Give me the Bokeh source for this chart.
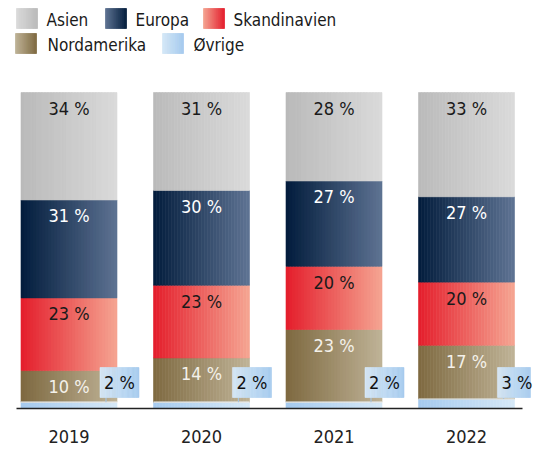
import numpy as np
from bokeh.plotting import figure
from bokeh.models import Range1d, ColumnDataSource
from bokeh.embed import file_html
from bokeh.resources import INLINE
from bokeh.core.properties import value

# ---------------- data ----------------
years = ["2019", "2020", "2021", "2022"]
series = ["Øvrige", "Nordamerika", "Skandinavien", "Europa", "Asien"]  # bottom -> top
asien = [34, 31, 28, 33]
europa = [31, 30, 27, 27]
skandinavien = [23, 23, 20, 20]
nordamerika = [10, 14, 23, 17]
ovrige = [2, 2, 2, 3]
values = {"Øvrige": ovrige, "Nordamerika": nordamerika, "Skandinavien": skandinavien,
          "Europa": europa, "Asien": asien}
legend_order = ["Asien", "Europa", "Skandinavien", "Nordamerika", "Øvrige"]

# ---------------- style ----------------
grad = {  # (left colour, right colour) in bars
    "Asien": ("#bababa", "#dadada"),
    "Europa": ("#021c3c", "#5e7393"),
    "Skandinavien": ("#e41d2b", "#f5a592"),
    "Nordamerika": ("#7e6940", "#bfb397"),
    "Øvrige": ("#a5caee", "#d6e8f7"),
}
label_color = {"Asien": "#1a1a1a", "Europa": "#ffffff", "Skandinavien": "#1a1a1a",
               "Nordamerika": "#f4f1ea", "Øvrige": "#111111"}
FONT = value("DejaVu Sans Condensed")

W, H = 535, 450
PXY = 3.16      # px per percent
PXX = 132.5     # px per category
Y0 = 408        # px (from top) of baseline
X0 = 68.5       # px of first bar centre
x_start = -X0 / PXX
x_end = (W - X0) / PXX
y_start = -(H - Y0) / PXY
y_end = Y0 / PXY


def px2x(px):
    return x_start + px / PXX


def px2y(py):
    return y_end - py / PXY


def hex2rgb(h):
    h = h.lstrip("#")
    return np.array([int(h[i:i + 2], 16) for i in (0, 2, 4)], dtype=float)


def mix(c1, c2, t):
    c = hex2rgb(c1) * (1 - t) + hex2rgb(c2) * t
    return "#%02x%02x%02x" % tuple(int(round(v)) for v in c)


BW = 96 / PXX
NS = 32

p = figure(width=W, height=H, output_backend="svg", toolbar_location=None,
           x_range=Range1d(x_start, x_end), y_range=Range1d(y_start, y_end),
           min_border=0, outline_line_color=None)
p.axis.visible = False
p.grid.visible = False

# ---- gradient stacked bars ----
L, R, T, B, C = [], [], [], [], []
lx, ly, lt, lc = [], [], [], []
sepx0, sepx1, sepy = [], [], []
for i, yr in enumerate(years):
    base = 0.0
    for s in series:
        v = values[s][i]
        top = base + v
        c1, c2 = grad[s]
        for k in range(NS):
            l = i - BW / 2 + BW * k / NS
            L.append(l)
            R.append(l + BW / NS)
            B.append(base)
            T.append(top)
            C.append(mix(c1, c2, (k + 0.5) / NS))
        if s != "Øvrige":
            lx.append(i)
            ly.append(top - 16 / PXY)
            lt.append(f"{v} %")
            lc.append(label_color[s])
        else:
            sepx0.append(i - BW / 2)
            sepx1.append(i + BW / 2)
            sepy.append(top)
        base = top

src = ColumnDataSource(dict(left=L, right=R, top=T, bottom=B, color=C))
p.quad(left="left", right="right", top="top", bottom="bottom", source=src,
       fill_color="color", line_color="color", line_width=0.6)
# thin light separator above the Øvrige segment
p.segment(x0=sepx0, y0=sepy, x1=sepx1, y1=sepy, line_color="#eef3f8", line_width=1.2)

p.text(x=lx, y=ly, text=lt, text_color=lc, text_font=FONT, text_font_size="18px",
       text_align="center", text_baseline="middle")

# ---- Øvrige callouts ----
BOXW = 39 / PXX
bl, br, bt, bb, bc = [], [], [], [], []
cx, ct = [], []
sx, sy0, sy1 = [], [], []
box_bottom = px2y(397)
box_top = px2y(367)
xmax = px2x(530)
for i in range(len(years)):
    left = i + BW / 2 - 17 / PXX
    right = min(left + BOXW, xmax)
    w = right - left
    for k in range(NS):
        l = left + w * k / NS
        bl.append(l)
        br.append(l + w / NS)
        bt.append(box_top)
        bb.append(box_bottom)
        bc.append(mix("#d7e8f7", "#a6cbee", (k + 0.5) / NS))
    cx.append(left + BOXW / 2)
    ct.append(f"{ovrige[i]} %")
    sx.append(left + 6 / PXX)
    sy0.append(box_bottom)
    sy1.append(ovrige[i])

p.segment(x0=sx, y0=sy0, x1=sx, y1=sy1, line_color="#a8c4dc", line_width=1.2)
p.quad(left=bl, right=br, top=bt, bottom=bb, fill_color=bc, line_color=bc, line_width=0.6)
p.text(x=cx, y=[(box_top + box_bottom) / 2] * len(cx), text=ct, text_color="#111111",
       text_font=FONT, text_font_size="18px", text_align="center", text_baseline="middle")

# ---- baseline ----
p.segment(x0=[px2x(16)], y0=[0], x1=[px2x(522)], y1=[0], line_color="#222222", line_width=1.6)

# ---- year labels ----
p.text(x=list(range(len(years))), y=[px2y(435.5)] * len(years), text=years,
       text_color="#222222", text_font=FONT, text_font_size="18px",
       text_align="center", text_baseline="middle")

# ---- legend (manual, with gradient swatches) ----
leg_pos = {  # swatch left px, swatch top px, text left px
    "Asien": (16, 8, 46),
    "Europa": (105, 8, 135),
    "Skandinavien": (203, 8, 233),
    "Nordamerika": (15, 33, 47),
    "Øvrige": (162, 33, 193),
}
gl, gr, gt, gb, gc = [], [], [], [], []
tx, ty, tt = [], [], []
for s in legend_order:
    sl, st, tl = leg_pos[s]
    c1, c2 = grad[s]
    for k in range(NS):
        l = px2x(sl + 21 * k / NS)
        gl.append(l)
        gr.append(l + 21 / PXX / NS)
        gt.append(px2y(st))
        gb.append(px2y(st + 20))
        gc.append(mix(c2, c1, (k + 0.5) / NS))
    tx.append(px2x(tl))
    ty.append(px2y(st + 11))
    tt.append(s)
p.quad(left=gl, right=gr, top=gt, bottom=gb, fill_color=gc, line_color=gc, line_width=0.6)
p.text(x=tx, y=ty, text=tt, text_color="#1a1a1a", text_font=FONT, text_font_size="17px",
       text_align="left", text_baseline="middle")

open("out.html", "w").write(file_html(p, INLINE))
